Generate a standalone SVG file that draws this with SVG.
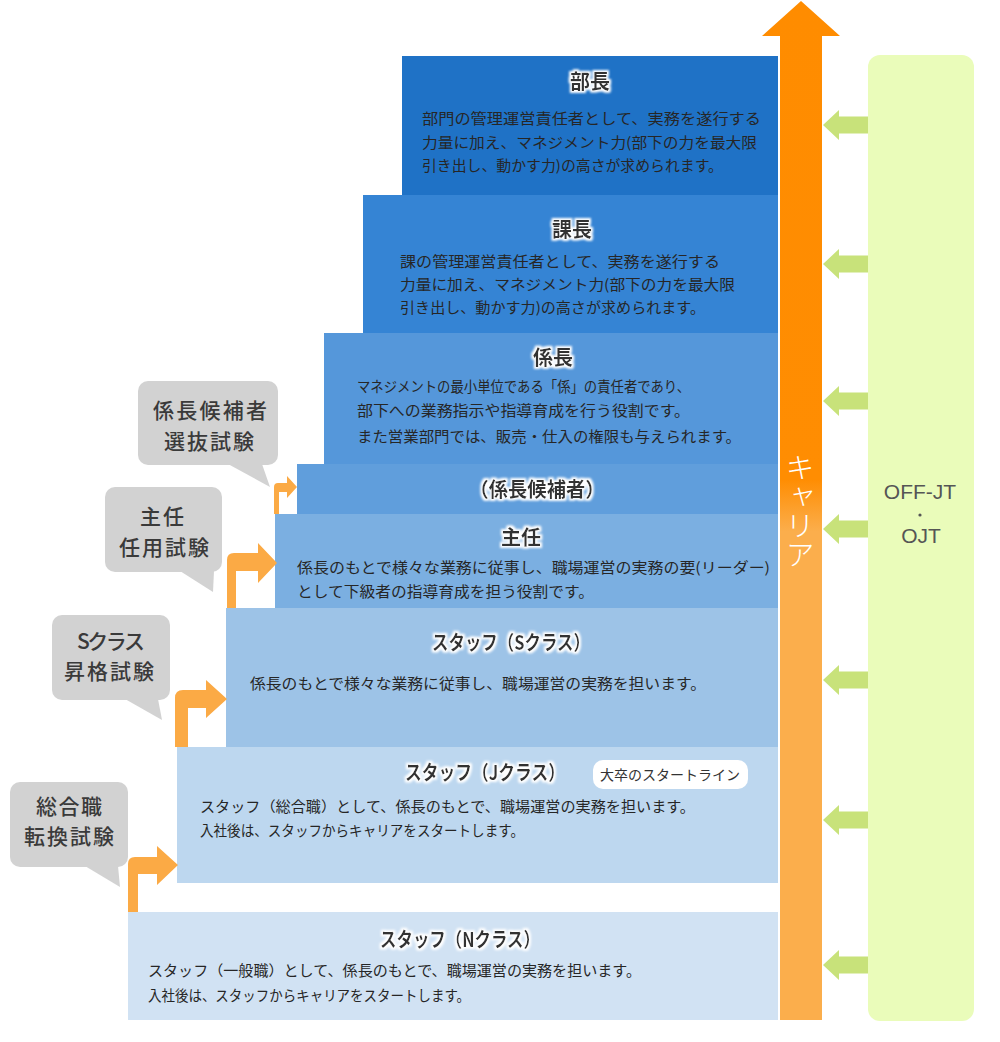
<svg xmlns="http://www.w3.org/2000/svg" width="1000" height="1042" viewBox="0 0 1000 1042">
<defs>
<style>
.body{font-family:"Noto Sans CJK JP","Noto Sans",sans-serif;font-size:14.5px;fill:#262626;}
.title{font-family:"Noto Sans CJK JP","Noto Sans",sans-serif;font-size:20px;font-weight:700;fill:#333;text-anchor:middle;filter:url(#glow);}
.call{font-family:"Noto Sans CJK JP","Noto Sans",sans-serif;font-size:21px;font-weight:500;fill:#3a3a3a;text-anchor:middle;}
.callbox{fill:#D2D2D2;}
.step{fill:#FBAA45;}
.green{fill:#C8E27A;}
.ojt{font-family:"Liberation Sans",Arial,sans-serif;font-size:21px;fill:#555;text-anchor:middle;}
.car{font-family:"Noto Sans CJK JP",sans-serif;font-size:29px;font-weight:300;fill:#fff;writing-mode:vertical-rl;}
</style>
<filter id="glow" x="-20%" y="-30%" width="140%" height="160%">
<feMorphology in="SourceAlpha" operator="dilate" radius="1.6" result="d"/>
<feGaussianBlur in="d" stdDeviation="1.2" result="b"/>
<feFlood flood-color="#ffffff"/>
<feComposite in2="b" operator="in" result="w"/>
<feMerge><feMergeNode in="w"/><feMergeNode in="SourceGraphic"/></feMerge>
</filter>
<linearGradient id="og" x1="0" y1="0" x2="0" y2="1042" gradientUnits="userSpaceOnUse">
<stop offset="0" stop-color="#FF8C00"/>
<stop offset="0.46" stop-color="#FF8D02"/>
<stop offset="0.51" stop-color="#FBAE4C"/>
<stop offset="1" stop-color="#FBAE4C"/>
</linearGradient>
</defs>
<rect width="1000" height="1042" fill="#fff"/>

<g id="offjt">
<rect x="868" y="55" width="106" height="966" rx="12" fill="#EAFCBA"/>
<text class="ojt" x="920" y="499">OFF-JT</text>
<circle cx="920" cy="515" r="1.6" fill="#555"/>
<text class="ojt" x="921" y="543">OJT</text>
</g>

<g id="career-arrow">
<path d="M780,1020 L780,36 L762,36 L801,1 L840,36 L822,36 L822,1020 Z" fill="url(#og)"/>
<text class="car" x="800" y="453">キャリア</text>
</g>

<g id="bucho">
<rect x="402" y="56" width="376" height="139" fill="#1F72C6"/>
<text class="title" x="590" y="89">部長</text>
<text class="body" x="422" y="124" textLength="339" lengthAdjust="spacingAndGlyphs">部門の管理運営責任者として、実務を遂行する</text>
<text class="body" x="422" y="148" textLength="335" lengthAdjust="spacingAndGlyphs">力量に加え、マネジメント力(部下の力を最大限</text>
<text class="body" x="422" y="171" textLength="301" lengthAdjust="spacingAndGlyphs">引き出し、動かす力)の高さが求められます。</text>
</g>

<g id="kacho">
<rect x="363" y="195" width="415" height="138" fill="#3584D4"/>
<text class="title" x="572" y="237">課長</text>
<text class="body" x="400" y="267" textLength="320" lengthAdjust="spacingAndGlyphs">課の管理運営責任者として、実務を遂行する</text>
<text class="body" x="400" y="290" textLength="335" lengthAdjust="spacingAndGlyphs">力量に加え、マネジメント力(部下の力を最大限</text>
<text class="body" x="400" y="313" textLength="305" lengthAdjust="spacingAndGlyphs">引き出し、動かす力)の高さが求められます。</text>
</g>

<g id="kakaricho">
<rect x="324" y="333" width="454" height="131" fill="#5597DA"/>
<text class="title" x="553" y="365">係長</text>
<text class="body" x="357" y="392" textLength="333" lengthAdjust="spacingAndGlyphs">マネジメントの最小単位である「係」の責任者であり、</text>
<text class="body" x="357" y="416" textLength="333" lengthAdjust="spacingAndGlyphs">部下への業務指示や指導育成を行う役割です。</text>
<text class="body" x="357" y="442" textLength="384" lengthAdjust="spacingAndGlyphs">また営業部門では、販売・仕入の権限も与えられます。</text>
</g>

<g id="kouho">
<rect x="297" y="464" width="481" height="50" fill="#609EDC"/>
<text class="title" x="537" y="497" textLength="135" lengthAdjust="spacingAndGlyphs">（係長候補者）</text>
</g>

<g id="shunin">
<rect x="275" y="514" width="503" height="94" fill="#7BAFE1"/>
<text class="title" x="521" y="545">主任</text>
<text class="body" x="297" y="573" textLength="473" lengthAdjust="spacingAndGlyphs">係長のもとで様々な業務に従事し、職場運営の実務の要(リーダー)</text>
<text class="body" x="297" y="597" textLength="297" lengthAdjust="spacingAndGlyphs">として下級者の指導育成を担う役割です。</text>
</g>

<g id="staff-s">
<rect x="226" y="608" width="552" height="139" fill="#9DC3E7"/>
<text class="title" x="511" y="650" textLength="158" lengthAdjust="spacingAndGlyphs">スタッフ（Sクラス）</text>
<text class="body" x="250" y="689" textLength="456" lengthAdjust="spacingAndGlyphs">係長のもとで様々な業務に従事し、職場運営の実務を担います。</text>
</g>

<g id="staff-j">
<rect x="177" y="747" width="601" height="136" fill="#BDD7EF"/>
<text class="title" x="485" y="780" textLength="160" lengthAdjust="spacingAndGlyphs">スタッフ（Jクラス）</text>
<rect x="593" y="760" width="155" height="29" rx="10" fill="#fff"/>
<text x="670" y="780" text-anchor="middle" font-family="Noto Sans CJK JP,sans-serif" font-size="14" fill="#333" textLength="140" lengthAdjust="spacingAndGlyphs">大卒のスタートライン</text>
<text class="body" x="200" y="812" textLength="495" lengthAdjust="spacingAndGlyphs">スタッフ（総合職）として、係長のもとで、職場運営の実務を担います。</text>
<text class="body" x="200" y="836" textLength="324" lengthAdjust="spacingAndGlyphs">入社後は、スタッフからキャリアをスタートします。</text>
</g>

<g id="staff-n">
<rect x="128" y="912" width="650" height="108" fill="#D1E2F3"/>
<text class="title" x="460" y="947" textLength="160" lengthAdjust="spacingAndGlyphs">スタッフ（Nクラス）</text>
<text class="body" x="148" y="976" textLength="493" lengthAdjust="spacingAndGlyphs">スタッフ（一般職）として、係長のもとで、職場運営の実務を担います。</text>
<text class="body" x="148" y="1001" textLength="322" lengthAdjust="spacingAndGlyphs">入社後は、スタッフからキャリアをスタートします。</text>
</g>

<g id="callout-kouho">
<rect class="callbox" x="138" y="381" width="140" height="84" rx="10"/>
<polygon class="callbox" points="228,464 262,464 270,487"/>
<text class="call" x="210" y="418" textLength="114" lengthAdjust="spacing">係長候補者</text>
<text class="call" x="209" y="449" textLength="90" lengthAdjust="spacing">選抜試験</text>
</g>

<g id="callout-shunin">
<rect class="callbox" x="105" y="487" width="117" height="85" rx="10"/>
<polygon class="callbox" points="180,571 214,571 213,592"/>
<text class="call" x="162" y="524" textLength="44" lengthAdjust="spacing">主任</text>
<text class="call" x="164" y="555" textLength="90" lengthAdjust="spacing">任用試験</text>
</g>

<g id="callout-s">
<rect class="callbox" x="52" y="615" width="118" height="85" rx="10"/>
<polygon class="callbox" points="125,699 158,699 162,720"/>
<text class="call" x="111" y="649" textLength="68" lengthAdjust="spacing">Sクラス</text>
<text class="call" x="109" y="679" textLength="90" lengthAdjust="spacing">昇格試験</text>
</g>

<g id="callout-sogo">
<rect class="callbox" x="10" y="782" width="118" height="85" rx="10"/>
<polygon class="callbox" points="85,866 118,866 120,887"/>
<text class="call" x="69" y="814" textLength="66" lengthAdjust="spacing">総合職</text>
<text class="call" x="69" y="844" textLength="90" lengthAdjust="spacing">転換試験</text>
</g>

<g id="connectors">
<path class="step" d="M274,514 L274,487 Q274,483 278,483 L287,483 L287,476 L297,487 L287,498 L287,492 L279,492 L279,514 Z"/>
<path class="step" d="M227,608 L227,560 Q227,553 234,553 L258,553 L258,543 L277,563 L258,583 L258,571 L236,571 L236,608 Z"/>
<path class="step" d="M175,747 L175,698 Q175,690 183,690 L206,690 L206,680 L227,699 L206,718 L206,708 L188,708 L188,747 Z"/>
<path class="step" d="M128,912 L128,864 Q128,857 135,857 L157,857 L157,846 L178,865 L157,885 L157,874 L138,874 L138,912 Z"/>
<path class="green" d="M868,116.5 L839,116.5 L839,110 L823,125 L839,140 L839,133.5 L868,133.5 Z"/>
<path class="green" d="M868,255.5 L839,255.5 L839,249 L823,264 L839,279 L839,272.5 L868,272.5 Z"/>
<path class="green" d="M868,392.5 L839,392.5 L839,386 L823,401 L839,416 L839,409.5 L868,409.5 Z"/>
<path class="green" d="M868,520.5 L839,520.5 L839,514 L823,529 L839,544 L839,537.5 L868,537.5 Z"/>
<path class="green" d="M868,671.5 L839,671.5 L839,665 L823,680 L839,695 L839,688.5 L868,688.5 Z"/>
<path class="green" d="M868,811.5 L839,811.5 L839,805 L823,820 L839,835 L839,828.5 L868,828.5 Z"/>
<path class="green" d="M868,956.5 L839,956.5 L839,950 L823,965 L839,980 L839,973.5 L868,973.5 Z"/>
</g>
</svg>
